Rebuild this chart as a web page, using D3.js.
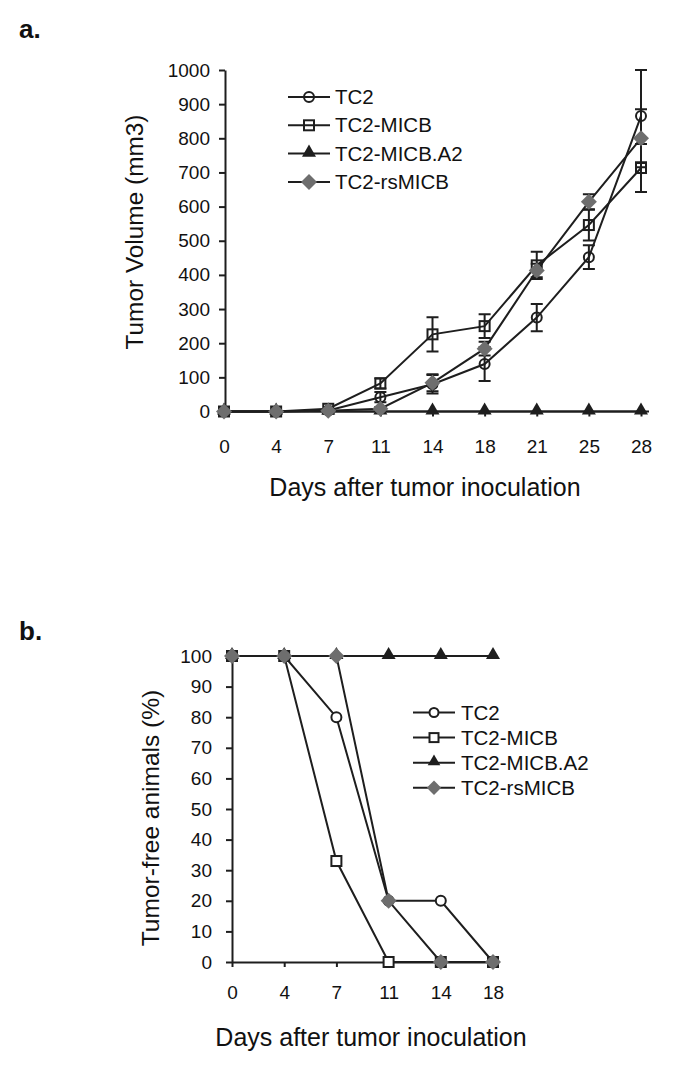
<!DOCTYPE html>
<html>
<head>
<meta charset="utf-8">
<script src="https://cdn.jsdelivr.net/npm/d3@7/dist/d3.min.js"></script>
<style>
  html, body { margin: 0; padding: 0; background: #fff; }
  svg { display: block; font-family: "Liberation Sans", Arial, sans-serif; }
</style>
</head>
<body>
<svg id="chart" width="675" height="1076"></svg>
<script>
// ---------- Panel a data ----------
const daysA = ["0", "4", "7", "11", "14", "18", "21", "25", "28"];
const seriesNames = ["TC2", "TC2-MICB", "TC2-MICB.A2", "TC2-rsMICB"];
const volTC2      = [0, 0, 3, 42, 80, 139, 275, 452, 865];
const volTC2err   = [0, 0, 2, 15, 27, 50, 40, 35, 135];
const volMICB     = [0, 0, 8, 82, 226, 250, 428, 546, 713];
const volMICBerr  = [0, 0, 3, 15, 50, 35, 40, 45, 70];
const volA2       = [0, 0, 0, 0, 0, 0, 0, 0, 0];
const volA2err    = [0, 0, 0, 0, 0, 0, 0, 0, 0];
const volRs       = [0, 0, 2, 8, 84, 184, 413, 614, 800];
const volRsErr    = [0, 0, 2, 5, 25, 20, 20, 22, 85];
const ticksA      = [0, 100, 200, 300, 400, 500, 600, 700, 800, 900, 1000];

// ---------- Panel b data ----------
const daysB = ["0", "4", "7", "11", "14", "18"];
const freeTC2  = [100, 100, 80, 20, 20, 0];
const freeMICB = [100, 100, 33, 0, 0, 0];
const freeA2   = [100, 100, 100, 100, 100, 100];
const freeRs   = [100, 100, 100, 20, 0, 0];
const ticksB   = [0, 10, 20, 30, 40, 50, 60, 70, 80, 90, 100];

const svg = d3.select("#chart");
const INK = "#1e1e1e";
const GRAY = "#6e6e6e";
const FONT = "'Liberation Sans', Arial, sans-serif";

function marker(g, type, x, y, filledWhite, scale) {
  const s = scale || 1;
  if (type === "circle") {
    g.append("circle").attr("cx", x).attr("cy", y).attr("r", 5 * s)
      .attr("fill", filledWhite ? "#fff" : "none").attr("stroke", INK).attr("stroke-width", 2);
  } else if (type === "square") {
    g.append("rect").attr("x", x - 5 * s).attr("y", y - 5 * s).attr("width", 10 * s).attr("height", 10 * s)
      .attr("fill", filledWhite ? "#fff" : "none").attr("stroke", INK).attr("stroke-width", 2);
  } else if (type === "triangle") {
    g.append("path").attr("d", d3.symbol(d3.symbolTriangle, 85 * s * s)())
      .attr("transform", `translate(${x},${y - 1})`).attr("fill", INK);
  } else if (type === "diamond") {
    g.append("path").attr("d", `M0,${-8 * s}L${8 * s},0L0,${8 * s}L${-8 * s},0Z`)
      .attr("transform", `translate(${x},${y})`).attr("fill", GRAY);
  }
}

function styleAxis(g, fontSize) {
  g.attr("font-family", FONT).attr("font-size", fontSize);
  g.select(".domain").attr("stroke", INK).attr("stroke-width", 2);
  g.selectAll(".tick line").attr("stroke", INK).attr("stroke-width", 2);
  g.selectAll(".tick text").attr("fill", "#111");
}

// ================= Panel a =================
(function () {
  const x = d3.scalePoint().domain(daysA).range([224, 641]);
  const y = d3.scaleLinear().domain([0, 1000]).range([411.5, 70]);

  svg.append("text").attr("x", 19).attr("y", 38).text("a.")
    .style("font-size", "26px").style("font-weight", "bold").attr("fill", "#111");

  const gx = svg.append("g").attr("transform", `translate(0,${y(0)})`)
    .call(d3.axisBottom(x).tickSize(5).tickSizeOuter(0).tickPadding(23));
  styleAxis(gx, 19);
  gx.select(".domain").attr("d", `M${x("0")},0H${x("28") + 8}`);

  const gy = svg.append("g").attr("transform", `translate(225,0)`)
    .call(d3.axisLeft(y).tickValues(ticksA).tickFormat(d3.format("d"))
      .tickSize(6).tickSizeOuter(0).tickPadding(9));
  styleAxis(gy, 19);

  svg.append("text").attr("x", 425).attr("y", 496).attr("text-anchor", "middle")
    .style("font-size", "25px").attr("fill", "#111").text("Days after tumor inoculation");
  svg.append("text").attr("transform", `translate(143,232) rotate(-90)`).attr("text-anchor", "middle")
    .style("font-size", "24.4px").attr("fill", "#111").text("Tumor Volume (mm3)");

  const series = [
    { v: volTC2, e: volTC2err, m: "circle" },
    { v: volMICB, e: volMICBerr, m: "square" },
    { v: volA2, e: volA2err, m: "triangle" },
    { v: volRs, e: volRsErr, m: "diamond" }
  ];
  const line = d3.line().x((d, i) => x(daysA[i])).y(d => y(d));
  const g = svg.append("g");
  series.forEach(s => {
    g.append("path").attr("d", line(s.v)).attr("fill", "none")
      .attr("stroke", INK).attr("stroke-width", 2);
  });
  series.forEach(s => {
    s.v.forEach((v, i) => {
      const e = s.e[i];
      if (e > 3) {
        const cx = x(daysA[i]);
        g.append("path").attr("d",
          `M${cx},${y(v - e)}V${y(v + e)}M${cx - 6},${y(v - e)}H${cx + 6}M${cx - 6},${y(v + e)}H${cx + 6}`)
          .attr("stroke", INK).attr("stroke-width", 2).attr("fill", "none");
      }
    });
  });
  series.forEach(s => {
    s.v.forEach((v, i) => marker(g, s.m, x(daysA[i]), y(v), false, 1));
  });

  // legend
  const lg = svg.append("g");
  const types = ["circle", "square", "triangle", "diamond"];
  seriesNames.forEach((name, i) => {
    const yy = 97 + i * 28.3;
    lg.append("line").attr("x1", 288).attr("x2", 330).attr("y1", yy).attr("y2", yy)
      .attr("stroke", INK).attr("stroke-width", 2);
    marker(lg, types[i], 309, yy, false, 1);
    lg.append("text").attr("x", 335).attr("y", yy + 7).style("font-size", "20.5px")
      .attr("fill", "#111").text(name);
  });
})();

// ================= Panel b =================
(function () {
  const x = d3.scalePoint().domain(daysB).range([232, 493]);
  const y = d3.scaleLinear().domain([0, 100]).range([962, 656]);

  svg.append("text").attr("x", 19).attr("y", 640).text("b.")
    .style("font-size", "26px").style("font-weight", "bold").attr("fill", "#111");

  const gx = svg.append("g").attr("transform", `translate(0,${y(0)})`)
    .call(d3.axisBottom(x).tickSize(5).tickSizeOuter(0).tickPadding(19));
  styleAxis(gx, 19);

  const gy = svg.append("g").attr("transform", `translate(232,0)`)
    .call(d3.axisLeft(y).tickValues(ticksB).tickFormat(d3.format("d"))
      .tickSize(6).tickSizeOuter(0).tickPadding(14));
  styleAxis(gy, 19);

  svg.append("text").attr("x", 371).attr("y", 1046).attr("text-anchor", "middle")
    .style("font-size", "25px").attr("fill", "#111").text("Days after tumor inoculation");
  svg.append("text").attr("transform", `translate(159,818) rotate(-90)`).attr("text-anchor", "middle")
    .style("font-size", "24.5px").attr("fill", "#111").text("Tumor-free animals (%)");

  const series = [
    { v: freeTC2, m: "circle" },
    { v: freeMICB, m: "square" },
    { v: freeA2, m: "triangle" },
    { v: freeRs, m: "diamond" }
  ];
  const line = d3.line().x((d, i) => x(daysB[i])).y(d => y(d));
  const g = svg.append("g");
  series.forEach(s => {
    g.append("path").attr("d", line(s.v)).attr("fill", "none")
      .attr("stroke", INK).attr("stroke-width", 2);
    s.v.forEach((v, i) => marker(g, s.m, x(daysB[i]), y(v), true, 1));
  });

  const lg = svg.append("g");
  const types = ["circle", "square", "triangle", "diamond"];
  seriesNames.forEach((name, i) => {
    const yy = 712.5 + i * 25.1;
    lg.append("line").attr("x1", 413).attr("x2", 455).attr("y1", yy).attr("y2", yy)
      .attr("stroke", INK).attr("stroke-width", 2);
    marker(lg, types[i], 434, yy, true, 0.9);
    lg.append("text").attr("x", 461).attr("y", yy + 7).style("font-size", "20.5px")
      .attr("fill", "#111").text(name);
  });
})();
</script>
</body>
</html>
